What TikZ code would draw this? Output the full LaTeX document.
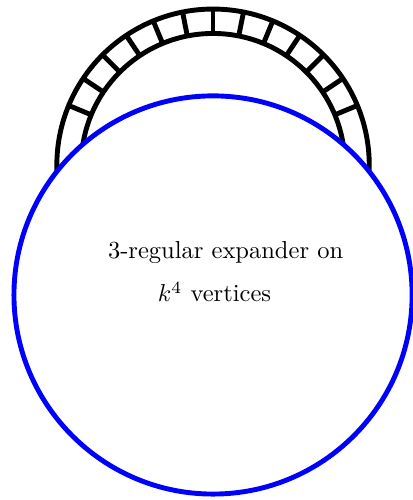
\documentclass[tikz,border=0pt]{standalone}
\begin{document}
\begin{tikzpicture}
  \useasboundingbox (-3.055,-2.94) rectangle (2.855,4.23);
  % ring of the cycle with its spokes
  \draw[line width=2pt] (0,1.86) circle (2.24);
  \draw[line width=2pt] (0,1.86) circle (1.89);
  \foreach \i in {2,...,14}{
    \draw[line width=2pt,shift={(0,1.86)}] (\i*11.25:1.89) -- (\i*11.25:2.24);
  }
  % the expander
  \draw[line width=2pt,blue,fill=white] (0,0) circle (2.855);
  \node[anchor=base] (exp) at (0.18,0.53) {3-regular expander on};
  \node[anchor=base] (verts) at (0.02,-0.10) {$k^4$ vertices};
\end{tikzpicture}
\end{document}
